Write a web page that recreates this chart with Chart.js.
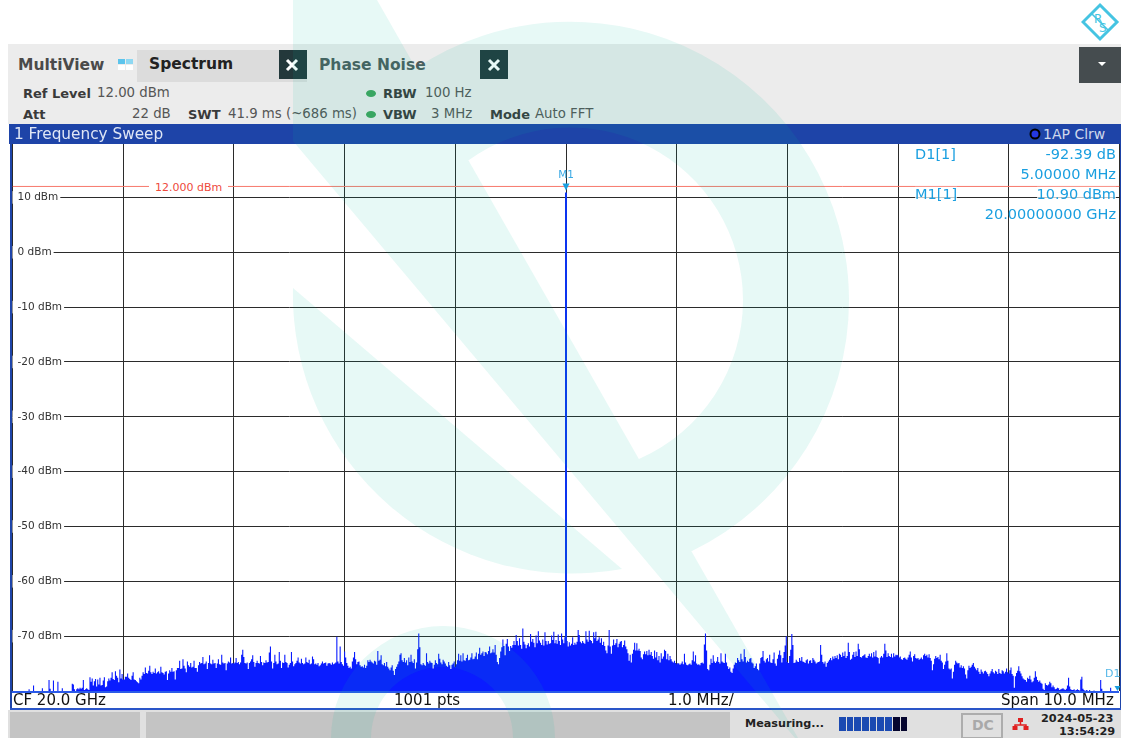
<!DOCTYPE html>
<html><head><meta charset="utf-8">
<script src="https://cdn.jsdelivr.net/npm/chart.js@4"></script>
<style>
html,body{margin:0;padding:0;background:#fff;width:1121px;height:738px;overflow:hidden}
body{font-family:"DejaVu Sans",sans-serif;position:relative}
.b{position:absolute}
.t{position:absolute;white-space:nowrap;line-height:1;transform:translateY(-50%)}
.g{color:#555;font-size:13.3px}
.h{color:#3a3a3a;font-size:13px;font-weight:bold}
.c{color:#1a9fe0;font-size:14.5px;background:rgba(255,255,255,.72)}
.f{color:#111;font-size:15px}
.dot{position:absolute;width:10px;height:7px;border-radius:50%;background:#3fa45c}
#wrap{position:absolute;left:10px;top:142px;width:1111px;height:551px}
#wm{position:absolute;left:0;top:0;pointer-events:none}
</style></head><body>
<!-- backgrounds -->
<div class="b" style="left:8px;top:44px;width:1113px;height:80px;background:#ececec"></div>
<div class="b" style="left:137px;top:50px;width:170px;height:32px;background:#dcdcdc"></div>
<div class="b" style="left:279px;top:50px;width:28px;height:29px;background:#23383b"></div>
<div class="b" style="left:480px;top:50px;width:28px;height:29px;background:#23383b"></div>
<div class="b" style="left:1079px;top:47px;width:42px;height:36px;background:#454c4f"></div>
<div class="b" style="left:118px;top:59px;width:7px;height:5px;background:#5cc4ec"></div>
<div class="b" style="left:126px;top:59px;width:7px;height:5px;background:#8ed8f2"></div>
<div class="b" style="left:118px;top:65px;width:7px;height:5px;background:#fff"></div>
<div class="b" style="left:126px;top:65px;width:7px;height:5px;background:#fff"></div>
<div class="b" style="left:9px;top:124px;width:1112px;height:20px;background:#1e44a8"></div>
<div class="b" style="left:12px;top:692px;width:1107px;height:16px;background:#fff"></div>
<div class="b" style="left:8px;top:710px;width:1113px;height:28px;background:#e0e0e0"></div>
<div class="b" style="left:10px;top:712px;width:130px;height:26px;background:#c4c4c4"></div>
<div class="b" style="left:146px;top:712px;width:584px;height:26px;background:#c4c4c4"></div>

<div id="wrap"><canvas id="c" width="1111" height="551"></canvas></div>
<div class="b" style="left:10px;top:144px;width:2px;height:566px;background:#1e44a8"></div>
<div class="b" style="left:1120px;top:144px;width:1px;height:566px;background:#1e44a8"></div>
<div class="b" style="left:12px;top:691px;width:1107px;height:2px;background:#2a5ae8"></div>
<div class="b" style="left:10px;top:708px;width:1111px;height:2px;background:#2a55c8"></div>

<!-- header text -->
<div class="t" style="left:18px;top:66px;font-size:15.5px;font-weight:bold;color:#4a4a4a">MultiView</div>
<div class="t" style="left:149px;top:65px;font-size:15.5px;font-weight:bold;color:#222">Spectrum</div>
<div class="t" style="left:319px;top:66px;font-size:15.5px;font-weight:bold;color:#4c5c5c">Phase Noise</div>
<svg class="b" style="left:279px;top:50px" width="230" height="29"><path d="M8 10L18 20M18 10L8 20M210 10L220 20M220 10L210 20" stroke="#fff" stroke-width="3"/></svg>
<svg class="b" style="left:1098px;top:62px" width="10" height="5"><path d="M0 0H8L4 4Z" fill="#fff"/></svg>
<div class="t h" style="left:23px;top:93px">Ref Level</div>
<div class="t g" style="left:97px;top:93px">12.00 dBm</div>
<div class="t h" style="left:23px;top:114px">Att</div>
<div class="t g" style="left:132px;top:114px">22 dB</div>
<div class="t h" style="left:188px;top:114px">SWT</div>
<div class="t g" style="left:228px;top:114px">41.9 ms (~686 ms)</div>
<div class="dot" style="left:366px;top:90px"></div>
<div class="dot" style="left:366px;top:111px"></div>
<div class="t h" style="left:383px;top:93px">RBW</div>
<div class="t g" style="left:425px;top:93px">100 Hz</div>
<div class="t h" style="left:383px;top:114px">VBW</div>
<div class="t g" style="left:431px;top:114px">3 MHz</div>
<div class="t h" style="left:490px;top:114px">Mode</div>
<div class="t g" style="left:535px;top:114px">Auto FFT</div>
<div class="t" style="left:14px;top:135px;font-size:15.3px;color:#dfe6f5">1 Frequency Sweep</div>
<svg class="b" style="left:1029px;top:128px" width="12" height="12"><circle cx="6" cy="6" r="4.5" fill="#2438e0" stroke="#000" stroke-width="2"/></svg>
<div class="t" style="left:1043px;top:134px;font-size:14px;color:#cfd8ec">1AP Clrw</div>

<!-- readouts -->
<div class="t" style="left:149px;top:186.5px;font-size:11px;color:#ee4a3c;background:#fff;padding:1px 6px">12.000 dBm</div>
<div class="t c" style="left:915px;top:154px">D1[1]</div>
<div class="t c" style="right:5px;top:154px">-92.39 dB</div>
<div class="t c" style="right:5px;top:174px">5.00000 MHz</div>
<div class="t c" style="left:915px;top:194px">M1[1]</div>
<div class="t c" style="right:5px;top:194px">10.90 dBm</div>
<div class="t c" style="right:5px;top:214px;background:none">20.00000000 GHz</div>

<!-- footer text -->
<div class="t f" style="left:13px;top:700px">CF 20.0 GHz</div>
<div class="t f" style="left:394px;top:700px">1001 pts</div>
<div class="t f" style="left:668px;top:700px">1.0 MHz/</div>
<div class="t f" style="left:1001px;top:700px">Span 10.0 MHz</div>
<div class="t" style="left:745px;top:724px;font-size:11.2px;font-weight:bold;color:#222">Measuring...</div>
<div class="b" id="prog" style="left:839px;top:717px;width:70px;height:14px;display:flex;gap:1px"></div>
<div class="b" style="left:961px;top:713px;width:38px;height:22px;border:2px solid #adadad"></div>
<div class="t" style="left:972px;top:725px;font-size:14px;font-weight:bold;color:#a9a9a9">DC</div>
<svg class="b" style="left:1012px;top:717px" width="17" height="14"><path d="M8.5 3V8M3 12V8H14V12" stroke="#e02020" stroke-width="1.5" fill="none"/><rect x="6" y="1" width="5" height="4" fill="#e02020"/><rect x="0.5" y="9" width="5" height="4" fill="#e02020"/><rect x="11.5" y="9" width="5" height="4" fill="#e02020"/></svg>
<div class="t" style="left:1041px;top:719px;font-size:11.3px;font-weight:bold;color:#222">2024-05-23</div>
<div class="t" style="left:1059px;top:732px;font-size:11.3px;font-weight:bold;color:#222">13:54:29</div>

<!-- logo -->
<svg class="b" style="left:1081px;top:2px" width="40" height="40">
<path d="M19 3L36 20L19 37L2 20Z" fill="#fff" stroke="#45c4e2" stroke-width="3"/>
<path d="M10 11L28 29" stroke="#45c4e2" stroke-width="1.6"/>
<text x="13" y="21" font-size="12" fill="#45c4e2" font-family="DejaVu Sans">R</text>
<text x="18" y="30" font-size="12" fill="#45c4e2" font-family="DejaVu Sans">S</text>
</svg>

<!-- watermark -->
<svg id="wm" width="1121" height="738" viewBox="0 0 1121 738">
<g fill="rgb(0,190,160)" opacity="0.095">
<path d="M293 0H377L798 738H795L293 141Z"/>
<path d="M416 68A279 279 0 0 1 849 300A279 279 0 0 1 692 551L680 551L630 459L639 459A173 173 0 0 0 743 300A173 173 0 0 0 469 160L455 160L405 68Z"/>
<path d="M293 288A279 279 0 0 0 622 569Z"/>
<path d="M331 738A112 112 0 0 1 555 738H513A71 71 0 0 0 371 738Z"/>
</g></svg>

<script>
const spanMHz = 10;
const levelTicks = [10,0,-10,-20,-30,-40,-50,-60,-70];
const freqTicks = [-5,-4,-3,-2,-1,0,1,2,3,4,5];
const refLevel = 12;
const markerFreq = 0, markerLevel = 10.9;
const deltaFreq = 5;

const sweepDiv1 = [-81,-81,-81,-81,-81,-81,-81,-81,-81,-81,-81,-81,-81,-81,-81,-79.7,-81,-81,-81,-79,-80.4,-81,-81,-81,-81,-81,-81,-79.5,-81,-81,-81,-81,-81,-78,-79.6,-81,-81,-78.1,-80,-81,-81,-78.3,-80,-81,-81,-79.5,-81,-81,-81,-81,-81,-81,-81,-81,-78.7,-78.8,-79.7,-81,-79.7,-79.5,-79.7,-79.4,-79.6,-79.4,-78,-79.8,-79.7,-79.5,-79.7,-79.8,-77.5,-78.3,-77.7,-79,-78.2,-77.8,-79.2,-77.9,-78.8,-77.6,-79,-78.9,-78.1,-77.5,-79.3,-79.2,-78.2,-77.7,-78.1,-77.6,-76.6,-77.8,-78,-76.4,-77.2,-77.6,-78.4,-76.1,-77.7,-76.9];
const sweepDiv2 = [-77.9,-77.9,-77.4,-77.4,-76.8,-77.6,-77.8,-78,-77.2,-76.6,-77.9,-78,-78.2,-78.4,-78.6,-77.6,-77.9,-77.2,-76.6,-76.9,-75.7,-76.7,-76.8,-76.3,-75.4,-76.6,-76.9,-76.5,-76.7,-75.9,-76.8,-76.6,-76.4,-76.8,-75.6,-76.6,-76.7,-77,-76.5,-76.4,-78,-76.8,-76.2,-76.5,-75.8,-76.5,-76.4,-77.9,-76.2,-75.8,-75.8,-74.5,-76,-75.9,-74.2,-75.4,-75.9,-76.6,-74.6,-75.3,-75.6,-74.9,-75.7,-75.6,-74.5,-75.8,-75.8,-76.5,-75.3,-74.7,-75,-74.9,-73.8,-75.1,-75,-74.6,-76,-74.9,-73.5,-75,-75.1,-74.3,-75,-74.9,-75.8,-75,-74.2,-75.1,-75.2,-73.4,-74.8,-75,-74.9,-76.2,-75,-74.6,-74.8,-73.9,-75,-74.9];
const sweepDiv3 = [-75,-74.8,-74,-74.9,-74.7,-75.1,-74.8,-73.4,-72.5,-73.8,-74.9,-75,-74.8,-76,-74.9,-74.6,-74.2,-73.5,-74.7,-75.6,-74.9,-74.5,-74.9,-75,-73.6,-74.7,-75.3,-74.8,-74.9,-74.4,-74.8,-74.7,-73,-71.9,-74.6,-75.9,-74.9,-73.4,-74.6,-75.1,-75,-72.9,-74.5,-75.8,-74.8,-74.9,-73.4,-74.7,-74.9,-75.7,-75.2,-74.9,-72.9,-74.6,-75.5,-75.1,-74.9,-74.5,-73.9,-74.8,-75,-74.1,-74.9,-75.1,-75,-73.9,-74.7,-74.9,-74.3,-75.1,-75,-73.7,-74.2,-75.1,-75,-75.2,-74.9,-75.5,-75.3,-75,-74.6,-75,-74.9,-74.8,-75.4,-75,-74.9,-75,-75.2,-74.8,-75.1,-75,-74.8,-70.1,-74.6,-75,-71.9,-74.7,-75.1,-75.4];
const sweepDiv4 = [-72.8,-73.9,-74.9,-75.4,-75.8,-75.6,-75.9,-74.6,-73.9,-72.9,-74.2,-75.1,-74.7,-74.6,-75.3,-75.6,-75.5,-75.7,-75.2,-75.8,-75.4,-74.4,-74.7,-74.3,-74.6,-74.8,-75,-74.5,-74.6,-75.2,-72.7,-74.5,-74.3,-73.5,-75.1,-75.3,-74.9,-75.5,-74.7,-75.6,-75.9,-76.2,-75.7,-75.3,-76.3,-77.1,-76,-75.6,-75.1,-74.6,-73.4,-73.1,-74.4,-74.7,-74,-74.8,-74.4,-75.3,-73.9,-74.7,-73.4,-74.6,-74.9,-74.2,-75.9,-74.8,-72.4,-69.5,-72,-75.1,-75.3,-74.9,-75.2,-75.4,-73.1,-74.7,-75,-74.5,-74.8,-74.9,-75.9,-75.2,-74.4,-74.9,-75.1,-73.2,-74.1,-74.8,-75.1,-74.3,-74.6,-75,-75.4,-75.6,-74.7,-75.3,-76,-75.2,-75,-74.6];
const sweepDiv5 = [-75.6,-75.1,-74.4,-73.2,-74.5,-73.5,-74.6,-73.1,-74.4,-74.5,-74,-73.4,-74.4,-74.3,-73.9,-73.1,-74.2,-74.1,-73.7,-73,-74.2,-73.2,-72.1,-73.4,-73.1,-72.8,-73.6,-72.9,-73,-73.3,-72.7,-71.9,-73.1,-73,-72.4,-73,-71.6,-73.4,-74.7,-75.1,-74,-72.8,-72,-70.6,-71.8,-73.5,-71.4,-70.5,-71.9,-72.7,-71.8,-72.1,-71.6,-70.9,-71.6,-69.8,-70.9,-71.7,-70.4,-71.6,-72.3,-68.6,-71,-71.5,-72.2,-71.6,-71.3,-71.9,-69.6,-71,-70.5,-71.2,-72,-69.9,-71.3,-69.1,-70.8,-71.2,-71.6,-70.6,-71.7,-69.3,-70.9,-71.5,-70.9,-71.4,-71.3,-69.9,-70.7,-69.2,-71.3,-70.7,-71.4,-69.7,-70.9,-71.6,-69.5,-70.6,-71.3,-70.2];
const sweepDiv6 = [-71.3,-70.9,-71.9,-71.1,-71.7,-71.4,-70.2,-71.6,-71.2,-71.5,-71,-68.9,-69.8,-71,-71.3,-70.9,-71.2,-71.4,-69.1,-70.6,-71,-69,-70.7,-70.9,-71.3,-69.3,-70.4,-69.2,-70.9,-70.6,-70.2,-71.2,-70.4,-71.6,-71,-71.8,-72.6,-73.1,-71.7,-68.9,-71.9,-73.2,-71.7,-70.6,-71.6,-71.3,-70.5,-72,-71.4,-71,-70.9,-72,-71.6,-70.8,-71.9,-72.4,-73.1,-74.5,-73.4,-74.8,-73.2,-72.5,-71.2,-72.6,-71.3,-72.6,-72.3,-72.7,-73.9,-74.2,-73.3,-72.8,-73.3,-72.7,-73.5,-72.5,-73.4,-72.9,-73.6,-74.1,-72.6,-73.9,-72.9,-74.4,-73.6,-74.8,-73.1,-74.1,-73.7,-72.5,-72.7,-74.2,-73.2,-74.4,-73.6,-74.2,-74.6,-74.8,-74.5,-74.9];
const sweepDiv7 = [-75.1,-74.9,-75,-75.2,-75,-74.6,-75.1,-73.2,-74.8,-75.2,-75.3,-75.1,-75,-75.2,-74.4,-72.8,-74.6,-73.5,-75,-75.2,-75.1,-75.3,-74.9,-74.8,-75,-71.5,-69.5,-72.6,-76,-76.2,-75.2,-74.1,-74.9,-73.5,-74.6,-74.9,-74.6,-73.8,-74.7,-75,-73.1,-74.6,-74.8,-74.9,-73.2,-74.8,-75.5,-76,-75.7,-76.5,-76.7,-75.9,-75.2,-74.8,-74.9,-74,-74.4,-74.7,-73.2,-74.2,-74.6,-72.4,-73.8,-74.8,-74.5,-74.7,-74.1,-74,-74.8,-75,-75.8,-75.5,-75,-76,-76.2,-75,-74,-73.8,-72.7,-74.5,-74.8,-74.2,-74,-74.6,-73.4,-74.8,-74.9,-74.2,-73,-75,-75.4,-74.1,-73.4,-72.6,-73.5,-74.8,-74,-72.9,-71.7,-70];
const sweepDiv8 = [-74.7,-74.9,-73.6,-72.5,-69.6,-71.6,-74.9,-74.8,-74.3,-74.6,-74.7,-74,-74.5,-73.8,-74.6,-74.7,-74.9,-74.4,-74.2,-75,-74.5,-74.4,-74.9,-74,-74.3,-74.6,-75,-74.8,-74.7,-74.6,-71.6,-73.4,-74.7,-75,-74.6,-75.6,-74.9,-74.6,-74.3,-74,-74.4,-73.7,-74.1,-73.6,-74,-73.5,-74.2,-73.2,-73.4,-73.8,-73,-73.6,-72.8,-74,-73.6,-71.2,-72.9,-74.3,-74.1,-73.4,-72.9,-73.8,-72.8,-73.6,-71.4,-72.4,-73.8,-73.9,-73.6,-73.5,-73.3,-73.9,-74,-73.6,-73.2,-73.7,-73.1,-73.9,-72.9,-73.7,-72.6,-73.8,-74,-75,-73.9,-73.6,-73.9,-73.2,-71.4,-72.6,-73.8,-73.1,-73.6,-73.8,-73.2,-73.9,-73.1,-73.7,-73.4,-73.5];
const sweepDiv9 = [-73.4,-73.9,-73.7,-74.2,-74.3,-74,-73.9,-74.1,-74.3,-73.9,-73.4,-72.8,-73.9,-74.6,-73.6,-73.3,-74,-74.1,-74,-74.3,-74.1,-73.9,-74.2,-73.5,-73.2,-73.6,-73.4,-73.9,-73.3,-74,-74.5,-76.2,-75.1,-74.1,-73.6,-74,-73.8,-74.2,-73.4,-74.5,-74.8,-76,-75.2,-74.6,-73.1,-74.5,-75.9,-76.1,-75.9,-77.7,-76.5,-75.2,-74.5,-74.8,-75,-74.9,-75.7,-75.3,-75.8,-75.5,-75.9,-77,-77.7,-76.2,-75.4,-75.8,-75.6,-75.2,-74.9,-75.6,-75.9,-76.2,-75.8,-76.5,-76.9,-76.1,-76.5,-76.8,-76.4,-76.3,-76.6,-76.9,-77.3,-76.8,-76.4,-76,-76.6,-76.8,-76.3,-76.5,-76.9,-76,-76.7,-76.9,-76.2,-76.4,-76.8,-76.5,-75.9,-76.6];
const sweepDiv10 = [-76.8,-76.2,-75.7,-76.9,-77.2,-79.4,-77.3,-76.7,-76.3,-75.5,-76.4,-76.8,-77.3,-77.7,-77.9,-78,-78.3,-77.6,-77.8,-77.2,-77.9,-78.4,-78.2,-77.6,-76.4,-77.4,-78,-78.3,-78.1,-78.5,-78.7,-79.6,-79.8,-78.6,-78.9,-79,-78.8,-78.3,-78.6,-79.3,-79,-79.3,-79.7,-79.6,-79.4,-79.5,-79.8,-79.7,-79.6,-79.5,-79.7,-79.8,-79.6,-79,-77.6,-79.2,-79.7,-79.8,-79.8,-79.7,-79.9,-79.8,-79.7,-79.8,-79.9,-77.9,-77.4,-79.6,-79.8,-81,-79.8,-79.9,-81,-79.8,-81,-81,-81,-79.9,-81,-81,-81,-81,-81,-78,-79.6,-81,-81,-81,-81,-81,-81,-81,-79.4,-81,-81,-81,-81,-81,-81,-81];
const sweepDivisions = [sweepDiv1,sweepDiv2,sweepDiv3,sweepDiv4,sweepDiv5,sweepDiv6,sweepDiv7,sweepDiv8,sweepDiv9,sweepDiv10];

const trace = [];
sweepDivisions.forEach((vals,d)=>vals.forEach((v,i)=>trace.push({x:-spanMHz/2+d+i/vals.length,y:v})));

const prog=document.getElementById('prog');
for(let i=0;i<9;i++){const s=document.createElement('div');s.style.cssText='width:6.7px;height:14px;background:'+(i<7?'#1b4ab2':'#05052e');prog.appendChild(s);}

const markerPlugin={id:'marker',afterDatasetsDraw(ch){
  const c=ch.ctx,xs=ch.scales.x,ys=ch.scales.y;
  const mx=xs.getPixelForValue(markerFreq),my=ys.getPixelForValue(markerLevel);
  c.save();c.fillStyle='#1a9fe0';
  c.beginPath();c.moveTo(mx-3.5,my-9);c.lineTo(mx+3.5,my-9);c.lineTo(mx,my-2);c.closePath();c.fill();
  c.font='10.5px "DejaVu Sans"';c.textAlign='center';c.textBaseline='middle';c.fillStyle='#3aa9e4';
  c.fillText('M1',mx,my-17.5);
  const dx=xs.getPixelForValue(deltaFreq),dy=ch.chartArea.bottom;
  c.font='11px "DejaVu Sans"';c.textAlign='right';c.fillStyle='#55b8e8';c.fillText('D1',dx+1,dy-17);
  c.fillStyle='#1a9fe0';c.beginPath();c.moveTo(dx-5,dy-5);c.lineTo(dx+1,dy-5);c.lineTo(dx-2,dy);c.closePath();c.fill();
  c.restore();
}};

new Chart(document.getElementById('c'),{
  type:'scatter',
  data:{datasets:[
    {label:'Display line',data:[{x:-spanMHz/2,y:refLevel},{x:spanMHz/2,y:refLevel}],showLine:true,borderColor:'#f7796c',borderWidth:1,pointRadius:0,order:3},
    {label:'Carrier',data:[{x:markerFreq,y:-80},{x:markerFreq,y:markerLevel}],showLine:true,borderColor:'#0c34f0',borderWidth:2,pointRadius:0,order:2},
    {label:'Trace 1',data:trace,showLine:true,borderColor:'rgba(0,0,0,0)',borderWidth:0,backgroundColor:'#0a1cff',fill:'start',pointRadius:0,stepped:'middle',order:1}
  ]},
  plugins:[markerPlugin],
  options:{
    responsive:false,animation:false,devicePixelRatio:1,
    layout:{padding:{left:2.5,right:1.5,top:2,bottom:2}},
    plugins:{legend:{display:false},tooltip:{enabled:false},title:{display:false}},
    scales:{
      x:{type:'linear',min:-spanMHz/2,max:spanMHz/2,border:{display:false},
        afterBuildTicks:s=>{s.ticks=freqTicks.map(value=>({value}));},
        grid:{color:'#2b2b2b',lineWidth:1,drawTicks:false},ticks:{display:false},
        afterFit:s=>{s.height=0;s.paddingLeft=0;s.paddingRight=0;s.paddingTop=0;s.paddingBottom=0;}},
      y:{type:'linear',min:-80,max:19.74,border:{display:false},
        afterBuildTicks:s=>{s.ticks=levelTicks.map(value=>({value}));},
        grid:{color:'#2b2b2b',lineWidth:1,drawTicks:false},
        ticks:{mirror:true,padding:5,color:'#333',font:{family:'"DejaVu Sans"',size:10.5},
          callback:v=>v+' dBm',showLabelBackdrop:true,backdropColor:'#fff',
          backdropPadding:{left:5,right:2,top:0,bottom:0}},
        afterFit:s=>{s.width=0;s.paddingTop=0;s.paddingBottom=0;s.paddingLeft=0;s.paddingRight=0;}}
    }
  }
});
</script>
</body></html>
